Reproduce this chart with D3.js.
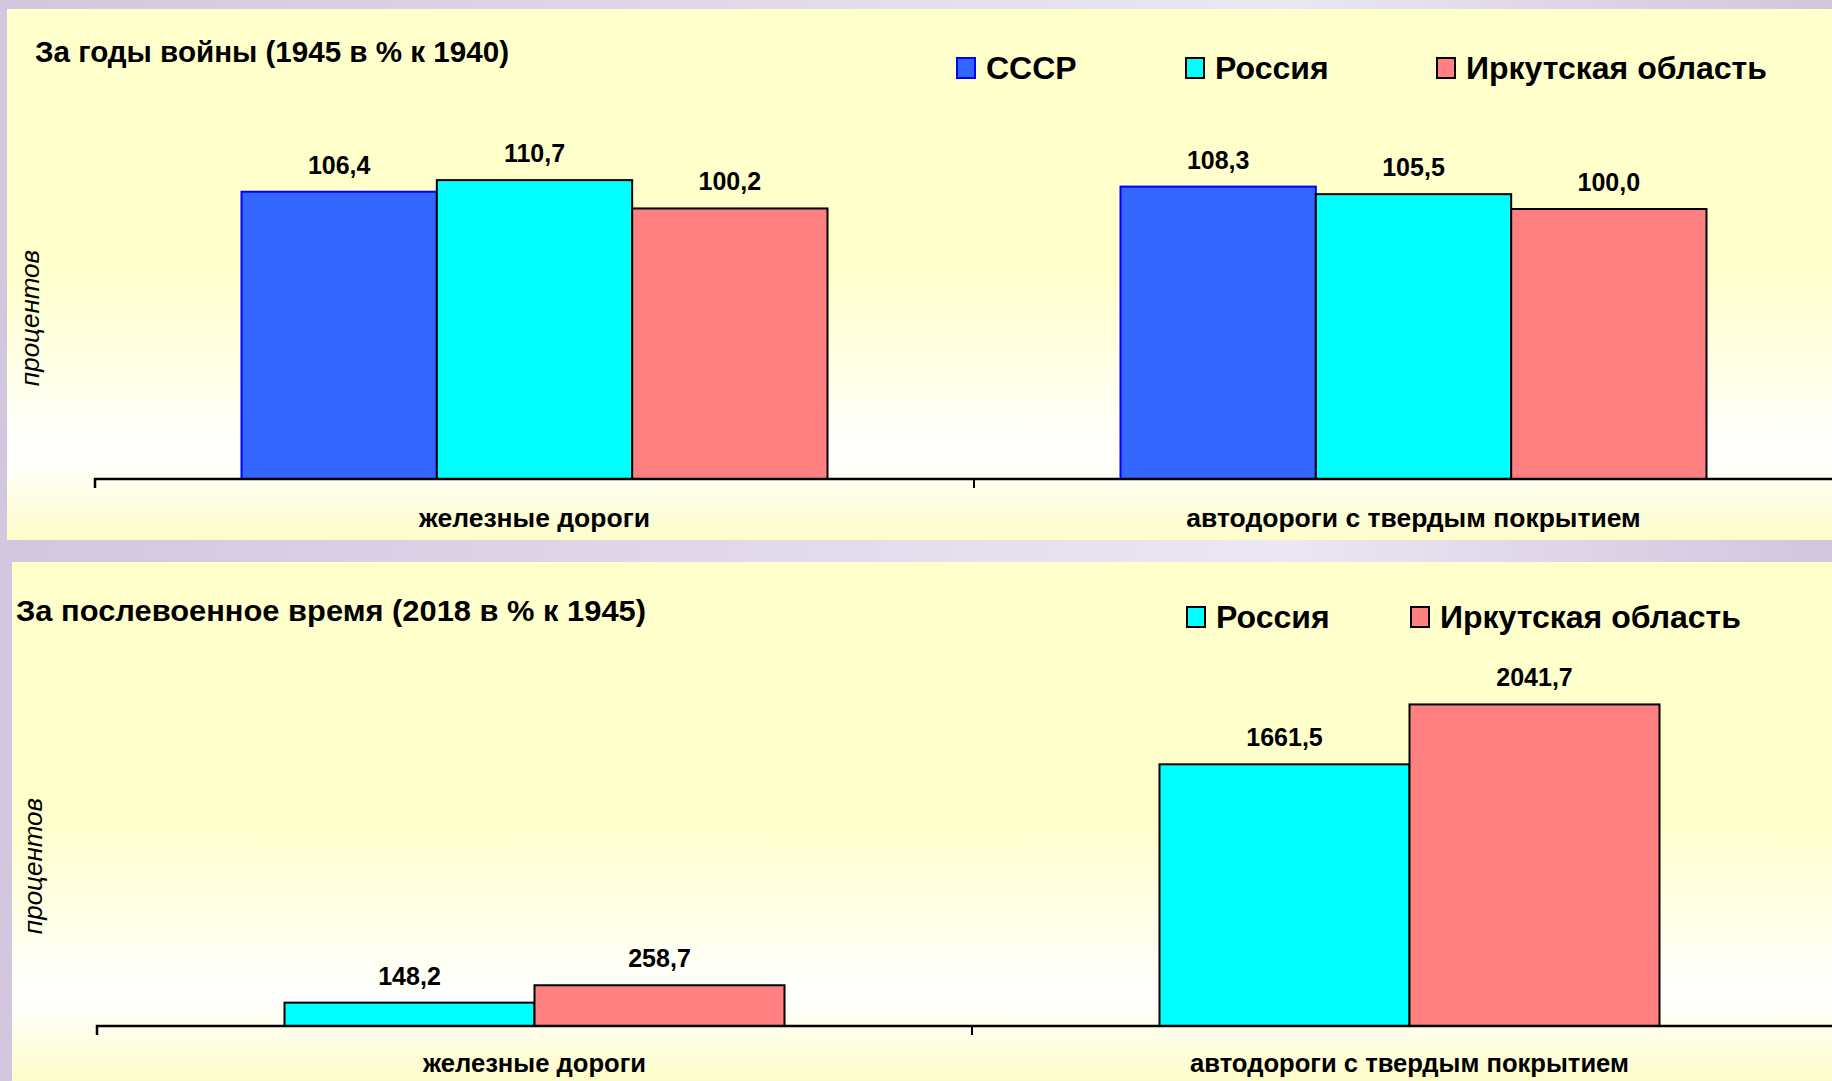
<!DOCTYPE html>
<html><head><meta charset="utf-8">
<script src="https://cdn.jsdelivr.net/npm/d3@7"></script>
<style>html,body{margin:0;padding:0;background:#fff;}svg{display:block;}</style>
</head><body>
<svg id="chart" width="1832" height="1081"></svg>
<script>
// ---- data ----
const categories = ["железные дороги", "автодороги с твердым покрытием"];
const warSeriesNames = ["СССР", "Россия", "Иркутская область"];
const warUSSR = [106.4, 108.3];
const warRussia = [110.7, 105.5];
const warIrkutsk = [100.2, 100.0];
const postSeriesNames = ["Россия", "Иркутская область"];
const postRussia = [148.2, 1661.5];
const postIrkutsk = [258.7, 2041.7];
const topTitle = "За годы войны (1945 в % к 1940)";
const bottomTitle = "За послевоенное время (2018 в % к 1945)";
const yAxisTitle = "процентов";

const seriesStyle = {
  "СССР": {fill: "#3366ff", stroke: "#0000ff"},
  "Россия": {fill: "#00ffff", stroke: "#000000"},
  "Иркутская область": {fill: "#ff8080", stroke: "#000000"}
};
const FONT = "'Liberation Sans', Arial, sans-serif";
const fmt = v => d3.format(".1f")(v).replace(".", ",");

const svg = d3.select("#chart");
const defs = svg.append("defs");
const bgGrad = defs.append("linearGradient").attr("id", "bg").attr("x1", "0").attr("x2", "1").attr("y1", "0").attr("y2", "0");
[[0, "#d3c6df"], [0.7, "#ebe7f3"], [1, "#d2c5de"]].forEach(([o, c]) => bgGrad.append("stop").attr("offset", o).attr("stop-color", c));
const pGrad = defs.append("linearGradient").attr("id", "panel").attr("x1", "0").attr("x2", "0").attr("y1", "0").attr("y2", "1");
[[0, "#ffffcc"], [0.5, "#ffffcc"], [0.84, "#ffffff"], [1, "#fdfcc9"]].forEach(([o, c]) => pGrad.append("stop").attr("offset", o).attr("stop-color", c));

svg.append("rect").attr("width", 1832).attr("height", 1081).attr("fill", "url(#bg)");

function panel(cfg) {
  const g = svg.append("g");
  g.append("rect").attr("x", cfg.px).attr("y", cfg.py).attr("width", 1832 - cfg.px).attr("height", cfg.ph).attr("fill", "url(#panel)");

  // title
  g.append("text").attr("x", cfg.titleX).attr("y", cfg.titleY).attr("font-family", FONT).attr("font-weight", "bold")
    .attr("font-size", 30).attr("fill", "#000")
    .attr("textLength", cfg.titleW).attr("lengthAdjust", "spacingAndGlyphs").text(cfg.title);

  // legend
  cfg.series.forEach((s, i) => {
    const lx = cfg.legendX[i];
    g.append("rect").attr("x", lx).attr("y", cfg.legendY - 10).attr("width", 18).attr("height", 20)
      .attr("fill", seriesStyle[s].fill).attr("stroke", seriesStyle[s].stroke).attr("stroke-width", 2);
    g.append("text").attr("x", lx + 29).attr("y", cfg.legendY + 11).attr("font-family", FONT).attr("font-weight", "bold")
      .attr("font-size", 32).attr("fill", "#000").text(s);
  });

  // y axis title
  g.append("text").attr("transform", `translate(${cfg.yTitleX},${cfg.yTitleY}) rotate(-90)`)
    .attr("text-anchor", "middle").attr("dominant-baseline", "central")
    .attr("font-family", FONT).attr("font-style", "italic").attr("font-size", 26).attr("fill", "#000").text(yAxisTitle);

  const x = d3.scaleBand().domain(categories).range(cfg.xRange).paddingInner(0).paddingOuter(0);
  const xs = d3.scaleBand().domain(cfg.series).range([0, x.bandwidth()]).paddingInner(0).paddingOuter(0.75);
  const y = d3.scaleLinear().domain(cfg.yDomain).range([cfg.base, cfg.base - cfg.plotH]);

  const rows = [];
  categories.forEach((c, ci) => cfg.series.forEach((s, si) => rows.push({c, s, v: cfg.values[si][ci]})));

  const plot = g.append("g");
  plot.selectAll("rect.bar").data(rows).join("rect").attr("class", "bar")
    .attr("x", d => x(d.c) + xs(d.s)).attr("width", xs.bandwidth())
    .attr("y", d => y(d.v)).attr("height", d => y(0) - y(d.v))
    .attr("fill", d => seriesStyle[d.s].fill).attr("stroke", d => seriesStyle[d.s].stroke).attr("stroke-width", 2);

  plot.selectAll("text.val").data(rows).join("text").attr("class", "val")
    .attr("x", d => x(d.c) + xs(d.s) + xs.bandwidth() / 2).attr("y", d => y(d.v) - 18)
    .attr("text-anchor", "middle").attr("font-family", FONT).attr("font-weight", "bold").attr("font-size", 25)
    .attr("fill", "#000").text(d => fmt(d.v));

  // category axis
  const axis = d3.axisBottom(x).tickSize(0).tickFormat("");
  const ag = g.append("g").attr("transform", `translate(0,${cfg.base})`).call(axis);
  ag.select(".domain").attr("stroke", "#000").attr("stroke-width", 2.5).attr("d", `M${cfg.xRange[0]},9V0H${cfg.xRange[1]}`);
  const bounds = categories.map(c => x(c));
  ag.selectAll("line.bt").data(bounds).join("line").attr("class", "bt")
    .attr("x1", d => d).attr("x2", d => d).attr("y1", 0).attr("y2", 9).attr("stroke", "#000").attr("stroke-width", 2);
  g.selectAll("text.cat").data(categories).join("text").attr("class", "cat")
    .attr("x", d => x(d) + x.bandwidth() / 2).attr("y", cfg.catY)
    .attr("text-anchor", "middle").attr("font-family", FONT).attr("font-weight", "bold").attr("font-size", cfg.catSize)
    .attr("fill", "#000").text(d => d);
}

panel({
  px: 7, py: 9, ph: 531,
  title: topTitle, titleX: 35, titleY: 62, titleW: 474,
  series: warSeriesNames, values: [warUSSR, warRussia, warIrkutsk],
  legendX: [957, 1186, 1437], legendY: 68,
  yTitleX: 30, yTitleY: 318,
  xRange: [95, 1853], yDomain: [0, 120], base: 479, plotH: 324,
  catY: 527, catSize: 26.5
});

panel({
  px: 12, py: 562, ph: 519,
  title: bottomTitle, titleX: 16, titleY: 621, titleW: 630,
  series: postSeriesNames, values: [postRussia, postIrkutsk],
  legendX: [1187, 1411], legendY: 617,
  yTitleX: 33, yTitleY: 866,
  xRange: [97, 1847], yDomain: [0, 2500], base: 1026, plotH: 393.75,
  catY: 1072, catSize: 25.6
});
</script>
</body></html>
